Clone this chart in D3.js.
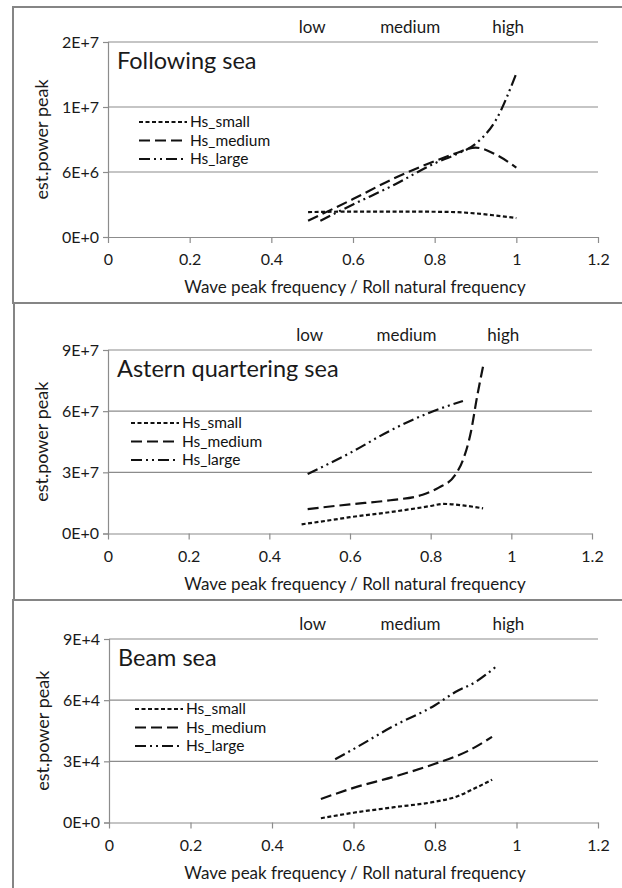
<!DOCTYPE html>
<html>
<head>
<meta charset="utf-8">
<script src="https://cdn.jsdelivr.net/npm/d3@7"></script>
<style>
    body { margin: 0; background: #fff; }
    svg { display: block; font-family: Lato, "Open Sans", sans-serif; }
</style>
</head>
<body>
<svg class="chart" width="622" height="888"></svg>
<script>
(function() {
    'use strict';

    // shared axis stuff
    var xTicks = [0, 0.2, 0.4, 0.6, 0.8, 1, 1.2];
    var xTickLabels = ["0", "0.2", "0.4", "0.6", "0.8", "1", "1.2"];
    var seriesNames = ["Hs_small", "Hs_medium", "Hs_large"];
    var bandLabels = ["low", "medium", "high"];

    // Following sea
    var followTicks = [0, 6e6, 1.2e7, 1.8e7];
    var followTickLabels = ["0E+0", "6E+6", "1E+7", "2E+7"];
    var followSmallX = [0.49, 0.55, 0.6, 0.7, 0.8, 0.85, 0.9, 0.95, 1.0];
    var followSmallY = [2.3e6, 2.33e6, 2.34e6, 2.35e6, 2.33e6, 2.3e6, 2.18e6, 1.98e6, 1.75e6];
    var followMediumX = [0.49, 0.6, 0.7, 0.8, 0.85, 0.9, 0.95, 1.0];
    var followMediumY = [1.5e6, 3.5e6, 5.4e6, 7.0e6, 7.7e6, 8.25e6, 7.6e6, 6.4e6];
    var followLargeX = [0.52, 0.6, 0.7, 0.8, 0.85, 0.9, 0.95, 1.0];
    var followLargeY = [1.5e6, 3.0e6, 4.8e6, 6.8e6, 7.6e6, 8.6e6, 10.8e6, 15.1e6];

    // Astern quartering sea
    var asternTicks = [0, 3e7, 6e7, 9e7];
    var asternTickLabels = ["0E+0", "3E+7", "6E+7", "9E+7"];
    var asternSmallX = [0.48, 0.55, 0.6, 0.7, 0.8, 0.83, 0.88, 0.93];
    var asternSmallY = [4.5e6, 6.5e6, 8.0e6, 10.5e6, 13.5e6, 14.5e6, 13.8e6, 12.3e6];
    var asternMediumX = [0.495, 0.6, 0.7, 0.78, 0.82, 0.86, 0.88, 0.9, 0.915, 0.93];
    var asternMediumY = [12e6, 14.3e6, 16.3e6, 19e6, 22.5e6, 28.5e6, 36e6, 50e6, 67e6, 82e6];
    var asternLargeX = [0.495, 0.6, 0.7, 0.8, 0.88];
    var asternLargeY = [29.2e6, 39.5e6, 50.5e6, 59.5e6, 65e6];

    // Beam sea
    var beamTicks = [0, 3e4, 6e4, 9e4];
    var beamTickLabels = ["0E+0", "3E+4", "6E+4", "9E+4"];
    var beamSmallX = [0.52, 0.6, 0.7, 0.8, 0.85, 0.9, 0.94];
    var beamSmallY = [2.1e3, 4.8e3, 7.5e3, 10.2e3, 12.5e3, 17e3, 21e3];
    var beamMediumX = [0.52, 0.6, 0.7, 0.8, 0.88, 0.94];
    var beamMediumY = [11.5e3, 17e3, 22.5e3, 28.8e3, 35e3, 42e3];
    var beamLargeX = [0.555, 0.6, 0.7, 0.8, 0.85, 0.9, 0.95];
    var beamLargeY = [31e3, 36e3, 47.5e3, 57.5e3, 64e3, 69e3, 76.5e3];

    var dashes = ["4,2.5", "11,5", "11,4,2,4,2,4"];

    var panels = [
        { title: "Following sea", top: 7, bottom: 303, left: 13,
          x0: 108, x1: 598, y0: 237, y1: 42,
          ticks: followTicks, tickLabels: followTickLabels,
          series: [[followSmallX, followSmallY], [followMediumX, followMediumY], [followLargeX, followLargeY]],
          legendX: 139, legendY: 122 },
        { title: "Astern quartering sea", top: 303, bottom: 600, left: 14,
          x0: 108, x1: 592, y0: 533.5, y1: 350,
          ticks: asternTicks, tickLabels: asternTickLabels,
          series: [[asternSmallX, asternSmallY], [asternMediumX, asternMediumY], [asternLargeX, asternLargeY]],
          legendX: 131, legendY: 423 },
        { title: "Beam sea", top: 600, bottom: 900, left: 13,
          x0: 109, x1: 598, y0: 822.5, y1: 639,
          ticks: beamTicks, tickLabels: beamTickLabels,
          series: [[beamSmallX, beamSmallY], [beamMediumX, beamMediumY], [beamLargeX, beamLargeY]],
          legendX: 135, legendY: 709 }
    ];

    var svg = d3.select(".chart");

    panels.forEach(function(p) {
        var g = svg.append("g");

        // frame
        g.append("rect")
            .attr("x", p.left)
            .attr("y", p.top)
            .attr("width", 640)
            .attr("height", p.bottom - p.top)
            .attr("fill", "none")
            .attr("stroke", "#858585")
            .attr("stroke-width", 2);

        var x = d3.scaleLinear().domain([0, 1.2]).range([p.x0, p.x1]);
        var y = d3.scaleLinear().domain([0, p.ticks[p.ticks.length - 1]]).range([p.y0, p.y1]);

        // gridlines
        g.selectAll("line.grid")
            .data(p.ticks.slice(1))
            .enter().append("line")
            .attr("class", "grid")
            .attr("x1", p.x0).attr("x2", p.x1)
            .attr("y1", function(d) { return y(d); })
            .attr("y2", function(d) { return y(d); })
            .attr("stroke", "#8c8c8c")
            .attr("stroke-width", 1.2);

        var yAxis = d3.axisLeft(y)
            .tickValues(p.ticks)
            .tickFormat(function(d, i) { return p.tickLabels[i]; })
            .tickSize(5)
            .tickPadding(4);
        var gy = g.append("g")
            .attr("transform", "translate(" + p.x0 + ",0)")
            .call(yAxis);

        var xAxis = d3.axisBottom(x)
            .tickValues(xTicks)
            .tickFormat(function(d, i) { return xTickLabels[i]; })
            .tickSize(6)
            .tickSizeOuter(0)
            .tickPadding(11);
        var gx = g.append("g")
            .attr("transform", "translate(0," + p.y0 + ")")
            .call(xAxis);

        [gx, gy].forEach(function(a) {
            a.selectAll("path, line").attr("stroke", "#8c8c8c").attr("stroke-width", 1.2);
            a.selectAll("text").attr("fill", "#1a1a1a").style("font-size", "16px")
                .style("font-family", "Lato, sans-serif");
        });

        // low / medium / high
        g.selectAll("text.band")
            .data(bandLabels)
            .enter().append("text")
            .attr("class", "band")
            .attr("x", function(d, i) { return x([0.5, 0.74, 0.98][i]); })
            .attr("y", p.y1 - 9)
            .attr("text-anchor", "middle")
            .style("font-size", "17px")
            .attr("fill", "#1a1a1a")
            .text(function(d) { return d; });

        g.append("text")
            .attr("x", p.x0 + 9)
            .attr("y", p.y1 + 27)
            .style("font-size", "23.5px")
            .attr("fill", "#1a1a1a")
            .text(p.title);

        g.append("text")
            .attr("transform", "translate(" + (p.x0 - 60) + "," + ((p.y0 + p.y1) / 2) + ") rotate(-90)")
            .attr("text-anchor", "middle")
            .style("font-size", "18px")
            .attr("fill", "#1a1a1a")
            .text("est.power peak");

        g.append("text")
            .attr("x", 355)
            .attr("y", p.y0 + 56)
            .attr("text-anchor", "middle")
            .style("font-size", "17px")
            .attr("fill", "#1a1a1a")
            .text("Wave peak frequency / Roll natural frequency");

        var line = d3.line()
            .x(function(d) { return x(d[0]); })
            .y(function(d) { return y(d[1]); })
            .curve(d3.curveMonotoneX);

        p.series.forEach(function(s, i) {
            var pts = s[0].map(function(v, j) { return [v, s[1][j]]; });
            g.append("path")
                .datum(pts)
                .attr("d", line)
                .attr("fill", "none")
                .attr("stroke", "#111")
                .attr("stroke-width", 2.2)
                .attr("stroke-dasharray", dashes[i]);

            g.append("line")
                .attr("x1", p.legendX).attr("x2", p.legendX + 48)
                .attr("y1", p.legendY + i * 18.5).attr("y2", p.legendY + i * 18.5)
                .attr("stroke", "#111")
                .attr("stroke-width", 2.2)
                .attr("stroke-dasharray", dashes[i]);

            g.append("text")
                .attr("x", p.legendX + 51)
                .attr("y", p.legendY + i * 18.5)
                .attr("dy", "0.35em")
                .style("font-size", "15.5px")
                .attr("fill", "#111")
                .text(seriesNames[i]);
        });
    });

})();
</script>
</body>
</html>
